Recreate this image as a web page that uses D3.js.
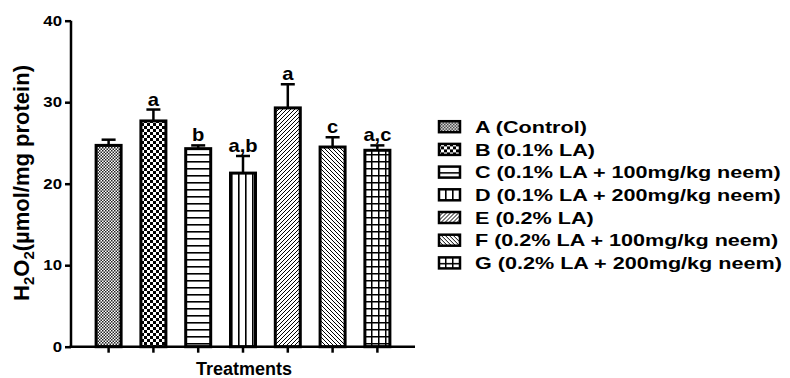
<!DOCTYPE html>
<html>
<head>
<meta charset="utf-8">
<script src="https://cdn.jsdelivr.net/npm/d3@7"></script>
<style>
  body { margin: 0; background: #fff; }
  text { font-family: "Liberation Sans", Arial, sans-serif; font-weight: bold; fill: #000; }
</style>
</head>
<body>
<div id="chart"></div>
<script>
  const groups = ["A", "B", "C", "D", "E", "F", "G"];
  const legendLabels = [
    "A (Control)",
    "B (0.1% LA)",
    "C (0.1% LA + 100mg/kg neem)",
    "D (0.1% LA + 200mg/kg neem)",
    "E (0.2% LA)",
    "F (0.2% LA + 100mg/kg neem)",
    "G (0.2% LA + 200mg/kg neem)"
  ];
  const means = [24.7, 27.7, 24.3, 21.3, 29.3, 24.5, 24.1];
  const errors = [0.7, 1.4, 0.4, 2.1, 2.9, 1.2, 0.6];
  const letters = ["", "a", "b", "a,b", "a", "c", "a,c"];
  const yTicks = [0, 10, 20, 30, 40];

  const width = 790;
  const height = 378;
  const svg = d3.select("#chart")
    .append("svg")
    .attr("width", width)
    .attr("height", height);

  const defs = svg.append("defs");
  function addPattern(id, size, draw) {
    const p = defs.append("pattern")
      .attr("id", id)
      .attr("patternUnits", "userSpaceOnUse")
      .attr("width", size)
      .attr("height", size);
    p.append("rect").attr("width", size).attr("height", size).attr("fill", "#fff");
    draw(p, size);
  }
  addPattern("pA", 3, (p) => {
    p.append("rect").attr("width", 1.5).attr("height", 1.5).attr("fill", "#222");
    p.append("rect").attr("x", 1.5).attr("y", 1.5).attr("width", 1.5).attr("height", 1.5).attr("fill", "#222");
  });
  addPattern("pB", 6, (p) => {
    p.append("rect").attr("width", 3).attr("height", 3).attr("fill", "#000");
    p.append("rect").attr("x", 3).attr("y", 3).attr("width", 3).attr("height", 3).attr("fill", "#000");
  });
  addPattern("pC", 7, (p) => {
    p.append("rect").attr("y", 0).attr("width", 7).attr("height", 1.6).attr("fill", "#000");
  });
  addPattern("pD", 7, (p) => {
    p.append("rect").attr("x", 0).attr("width", 1.6).attr("height", 7).attr("fill", "#000");
  });
  addPattern("pE", 4, (p) => {
    p.append("path").attr("d", "M-1,1 L1,-1 M0,4 L4,0 M3,5 L5,3")
      .attr("stroke", "#000").attr("stroke-width", 1);
  });
  addPattern("pF", 4, (p) => {
    p.append("path").attr("d", "M-1,3 L1,5 M0,0 L4,4 M3,-1 L5,1")
      .attr("stroke", "#000").attr("stroke-width", 1);
  });
  addPattern("pG", 7, (p) => {
    p.append("rect").attr("width", 7).attr("height", 1.5).attr("fill", "#000");
    p.append("rect").attr("width", 1.5).attr("height", 7).attr("fill", "#000");
  });

  const x = d3.scaleBand()
    .domain(groups)
    .range([71, 415])
    .paddingInner(0.375)
    .paddingOuter(0.527);
  const y = d3.scaleLinear()
    .domain([0, 40])
    .range([346.7, 20.7]);

  const bw = x.bandwidth();

  // bars
  svg.append("g")
    .selectAll("rect")
    .data(groups)
    .join("rect")
    .attr("x", d => x(d) + 1.5)
    .attr("y", (d, i) => y(means[i]))
    .attr("width", bw - 3)
    .attr("height", (d, i) => y(0) - y(means[i]))
    .attr("fill", d => `url(#p${d})`)
    .attr("stroke", "#000")
    .attr("stroke-width", 3);

  // error bars (upper only)
  const err = svg.append("g").attr("stroke", "#000").attr("stroke-width", 2.5);
  groups.forEach((g, i) => {
    const cx = x(g) + bw / 2;
    err.append("line")
      .attr("x1", cx).attr("x2", cx)
      .attr("y1", y(means[i])).attr("y2", y(means[i] + errors[i]));
    err.append("line")
      .attr("x1", cx - 7).attr("x2", cx + 7)
      .attr("y1", y(means[i] + errors[i])).attr("y2", y(means[i] + errors[i]));
  });

  // significance letters
  svg.append("g")
    .selectAll("text")
    .data(groups)
    .join("text")
    .attr("transform", (d, i) => `translate(${x(d) + bw / 2},${y(means[i] + errors[i]) - 4}) scale(1.12,1)`)
    .attr("text-anchor", "middle")
    .style("font-size", "18px")
    .text((d, i) => letters[i]);

  // axes
  const yAxis = d3.axisLeft(y).tickValues(yTicks).tickSize(6).tickPadding(3);
  const yAxisG = svg.append("g")
    .attr("transform", "translate(71,0)")
    .call(yAxis);
  yAxisG.select(".domain").attr("d", `M0,${y(40)}V${y(0)}`);
  yAxisG.selectAll("path, line").attr("stroke", "#000").attr("stroke-width", 2.5);
  yAxisG.selectAll("text")
    .style("font-size", "14px")
    .attr("transform", "translate(-9,0) scale(1.2,1) translate(9,0)");

  const xAxis = d3.axisBottom(x).tickSize(6).tickFormat("");
  const xAxisG = svg.append("g")
    .attr("transform", `translate(0,${y(0)})`)
    .call(xAxis);
  xAxisG.select(".domain").attr("d", "M69.5,0H415");
  xAxisG.selectAll("path, line").attr("stroke", "#000").attr("stroke-width", 2.5);

  // axis titles
  svg.append("text")
    .attr("x", 244)
    .attr("y", 375)
    .attr("text-anchor", "middle")
    .style("font-size", "18px")
    .text("Treatments");

  const yLabel = svg.append("text")
    .attr("transform", "translate(29,183) rotate(-90)")
    .attr("text-anchor", "middle")
    .style("font-size", "22px");
  yLabel.append("tspan").text("H");
  yLabel.append("tspan").attr("dy", 5).style("font-size", "15px").text("2");
  yLabel.append("tspan").attr("dy", -5).text("O");
  yLabel.append("tspan").attr("dy", 5).style("font-size", "15px").text("2");
  yLabel.append("tspan").attr("dy", -5).text("(µmol/mg protein)");

  // legend
  const legend = svg.append("g")
    .selectAll("g")
    .data(groups)
    .join("g")
    .attr("transform", (d, i) => `translate(438,${126.7 + i * 22.7})`);
  legend.append("rect")
    .attr("x", 1)
    .attr("y", -5.5)
    .attr("width", 21)
    .attr("height", 11)
    .attr("fill", d => `url(#p${d})`)
    .attr("stroke", "#000")
    .attr("stroke-width", 2.5);
  legend.append("text")
    .attr("transform", "translate(37,6.2) scale(1.27,1)")
    .style("font-size", "17px")
    .text((d, i) => legendLabels[i]);
</script>
</body>
</html>
